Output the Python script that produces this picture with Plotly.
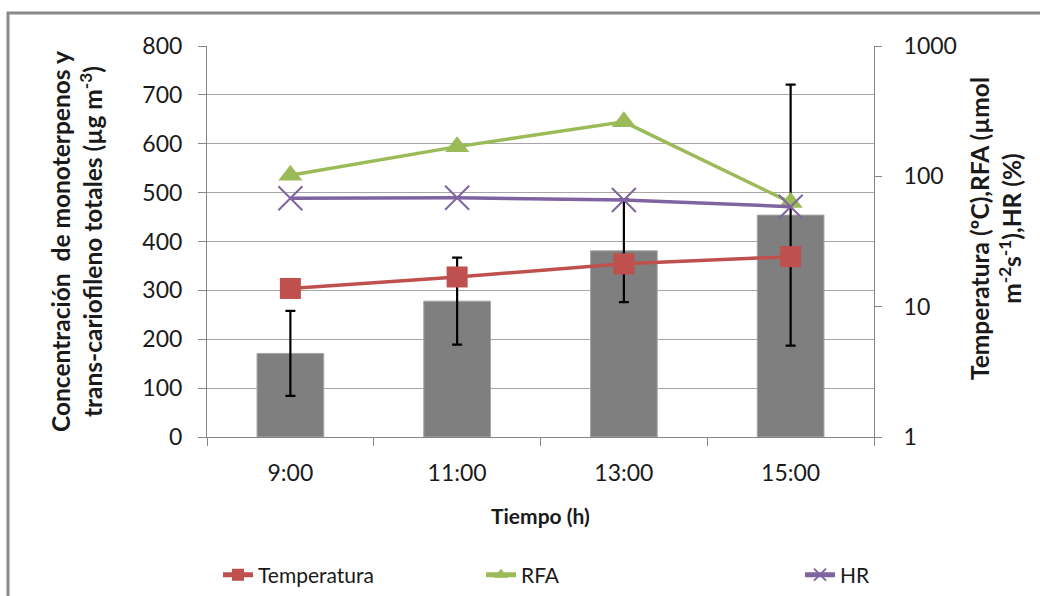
import plotly.graph_objects as go

# ---- data ----
categories = ["9:00", "11:00", "13:00", "15:00"]
concentracion = [171, 278, 381, 454]
concentracion_err = [87, 89, 105, 267]
temperatura = [13.8, 16.9, 21.3, 24.2]
rfa = [102, 169, 262, 63]
hr = [67.8, 68.5, 65.8, 58.5]

left_ticks = [0, 100, 200, 300, 400, 500, 600, 700, 800]
right_ticks = [1, 10, 100, 1000]
right_ticktext = ["1", "10", "100", "1000"]

FONT = "Lato"
TXT = "#1a1a1a"
AX = "#868686"

# plot area in pixels
W, H = 1040, 596
L, R, T, B = 207, 874, 46, 437


def px(x):
    return (x - L) / (R - L)


def py(y):
    return (B - y) / (B - T)


fig = go.Figure()

fig.add_trace(go.Bar(
    x=categories, y=concentracion, width=0.4,
    marker=dict(color="#7f7f7f", line=dict(color="#a6a6a6", width=1)),
    error_y=dict(type="data", array=concentracion_err, visible=True,
                 color="black", thickness=2.2, width=5),
    showlegend=False, yaxis="y",
))

fig.add_trace(go.Scatter(
    x=categories, y=temperatura, name="Temperatura", yaxis="y2",
    mode="lines+markers",
    line=dict(color="#C0504D", width=3.5),
    marker=dict(symbol="square", size=21, color="#C0504D",
                line=dict(color="#C0504D", width=0)),
    legend="legend",
))
fig.add_trace(go.Scatter(
    x=categories, y=rfa, name="RFA", yaxis="y2",
    mode="lines+markers",
    line=dict(color="#9BBB59", width=3.5),
    marker=dict(symbol="triangle-up", size=21, color="#9BBB59"),
    legend="legend2",
))
fig.add_trace(go.Scatter(
    x=categories, y=hr, name="HR", yaxis="y2",
    mode="lines+markers",
    line=dict(color="#8064A2", width=3.5),
    marker=dict(symbol="x-thin", size=24, color="#8064A2",
                line=dict(color="#8064A2", width=2)),
    legend="legend3",
))

legend_common = dict(orientation="h", xref="container", yref="container",
                     yanchor="middle", y=1 - 575 / H, xanchor="left",
                     font=dict(family=FONT, size=21, color=TXT),
                     bgcolor="rgba(0,0,0,0)", itemsizing="constant")

fig.update_layout(
    width=W, height=H,
    margin=dict(l=L, r=W - R, t=T, b=H - B),
    paper_bgcolor="white", plot_bgcolor="white",
    font=dict(family=FONT, size=21, color=TXT),
    bargap=0.6,
    xaxis=dict(type="category", showline=True, linecolor=AX, linewidth=1,
               ticks="outside", tickson="boundaries", ticklen=8, tickcolor=AX,
               showgrid=False, ticklabelstandoff=15,
               tickfont=dict(size=23, color=TXT)),
    yaxis=dict(range=[0, 800], tickvals=left_ticks, showline=True,
               linecolor=AX, linewidth=1, ticks="outside", ticklen=8,
               tickcolor=AX, gridcolor="#a6a6a6", gridwidth=1,
               zeroline=False, ticklabelstandoff=11,
               tickfont=dict(size=23, color=TXT)),
    yaxis2=dict(type="log", range=[0, 3], overlaying="y", side="right",
                tickvals=right_ticks, ticktext=right_ticktext,
                showline=True, linecolor=AX, linewidth=1, ticks="outside",
                ticklen=7, tickcolor=AX, showgrid=False, zeroline=False,
                ticklabelstandoff=17,
                tickfont=dict(size=23, color=TXT)),
    legend=dict(x=218 / W, **legend_common),
    legend2=dict(x=481 / W, **legend_common),
    legend3=dict(x=800 / W, **legend_common),
    shapes=[dict(type="rect", xref="paper", yref="paper",
                 x0=px(8), x1=px(1060), y0=py(13), y1=py(620),
                 line=dict(color="#8a8a8a", width=3), fillcolor="rgba(0,0,0,0)",
                 layer="below")],
    annotations=[
        dict(text="<b>Concentración  de monoterpenos y<br>trans-cariofileno totales (µg m<sup>-3</sup>)</b>",
             xref="paper", yref="paper", x=px(76), y=py(242), textangle=-90,
             showarrow=False, xanchor="center", yanchor="middle",
             font=dict(family=FONT, size=24.5, color=TXT)),
        dict(text="<b>Temperatura (ºC),RFA (µmol<br>m<sup>-2</sup>s<sup>-1</sup>),HR (%)</b>",
             xref="paper", yref="paper", x=px(996), y=py(229), textangle=-90,
             showarrow=False, xanchor="center", yanchor="middle",
             font=dict(family=FONT, size=24.5, color=TXT)),
        dict(text="<b>Tiempo (h)</b>", xref="paper", yref="paper",
             x=px(540), y=py(515), showarrow=False,
             xanchor="center", yanchor="middle",
             font=dict(family=FONT, size=21, color=TXT)),
    ],
)

fig.write_html("out.html")
